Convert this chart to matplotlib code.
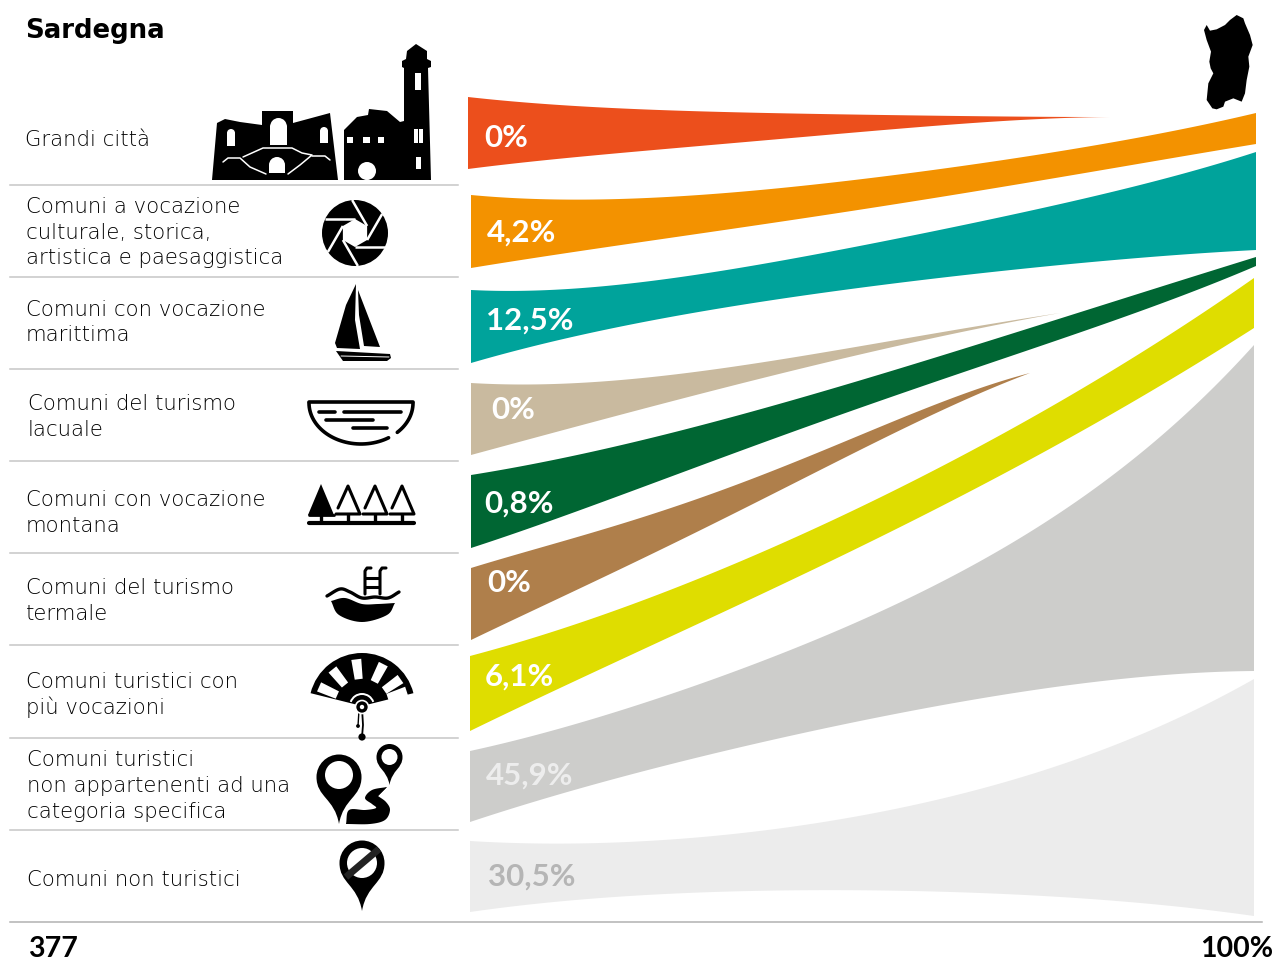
import numpy as np
import matplotlib
matplotlib.use('Agg')
import matplotlib.pyplot as plt
from matplotlib.patches import Circle, Ellipse, Polygon, PathPatch, Rectangle, Wedge
from matplotlib.path import Path

W, H = 1274, 962

colors = ['#EC4F1C', '#F39200', '#00A39B', '#C9BA9F', '#006633', '#AF7F4B', '#DFDD00', '#CDCDCB', '#ECECEC']
xs_full = [560, 660, 760, 860, 960, 1060, 1160]
flow_x = [
    [468, 560, 660, 760, 860, 960, 1060, 1110],
    [471] + xs_full + [1256],
    [471] + xs_full + [1256],
    [471, 560, 660, 760, 860, 960, 1060],
    [471] + xs_full + [1256],
    [471, 560, 660, 760, 860, 960, 1030],
    [470] + xs_full + [1254],
    [470] + xs_full + [1254],
    [470] + xs_full + [1254],
]
flow_top = [
    [97, 105, 110, 113, 114.5, 116, 117, 117],
    [195, 199, 198, 190, 179, 166, 152, 133, 113],
    [290, 288, 280, 267, 244, 225, 205, 180, 152],
    [383, 383, 377, 363, 345, 330, 313],
    [475, 460, 435, 408, 382, 350, 318, 287, 257],
    [568, 543, 510, 477, 435, 395, 373],
    [656, 630, 593, 553, 508, 457, 400, 342, 278],
    [751, 727, 698, 663, 621, 572, 510, 440, 345],
    [841, 843, 840, 832, 816, 793, 765, 727, 679],
]
flow_bottom = [
    [169, 159, 149, 141, 132, 124, 118, 117],
    [268, 253, 240, 225, 210, 193, 177, 161, 144],
    [363, 338, 320, 303, 287, 275, 265, 257, 250],
    [455, 430, 405, 380, 352, 334, 313],
    [548, 517, 483, 440, 410, 373, 340, 303, 266],
    [640, 597, 550, 503, 446, 405, 373],
    [731, 687, 642, 595, 548, 495, 443, 387, 328],
    [822, 793, 768, 743, 720, 702, 687, 675, 671],
    [912, 902, 893, 892, 890, 892, 897, 905, 916],
]

share_labels = ['0%', '4,2%', '12,5%', '0%', '0,8%', '0%', '6,1%', '45,9%', '30,5%']
share_colors = ['white'] * 7 + ['#EDEDED', '#B5B5B5']
share_x = [484, 487, 486, 491, 484, 487, 485, 486, 488]
share_y = [136, 231, 319, 408, 502, 581, 675, 774, 875]

label_lines = [
    ['Grandi città'],
    ['Comuni a vocazione', 'culturale, storica,', 'artistica e paesaggistica'],
    ['Comuni con vocazione', 'marittima'],
    ['Comuni del turismo', 'lacuale'],
    ['Comuni con vocazione', 'montana'],
    ['Comuni del turismo', 'termale'],
    ['Comuni turistici con', 'più vocazioni'],
    ['Comuni turistici', 'non appartenenti ad una', 'categoria specifica'],
    ['Comuni non turistici'],
]
label_x = [25, 26, 26, 28, 26, 26, 26, 27, 27]
label_y = [[138], [205, 231, 256], [308, 333], [402, 428], [498, 524], [586, 612], [680, 706], [758, 784, 810], [878]]

sep_y = [185, 277, 369, 461, 553, 645, 738, 830]

plt.rcParams['font.family'] = ['Lato', 'DejaVu Sans']


def smooth(xs, ys, n=24):
    # catmull-rom through the read points
    p = np.column_stack([xs, ys]).astype(float)
    p = np.vstack([2 * p[0] - p[1], p, 2 * p[-1] - p[-2]])
    out = []
    t = np.linspace(0, 1, n, endpoint=False)[:, None]
    for i in range(1, len(p) - 2):
        p0, p1, p2, p3 = p[i - 1], p[i], p[i + 1], p[i + 2]
        out.append(0.5 * (2 * p1 + (p2 - p0) * t + (2 * p0 - 5 * p1 + 4 * p2 - p3) * t ** 2
                          + (3 * p1 - p0 - 3 * p2 + p3) * t ** 3))
    out.append(p[-2][None, :])
    return np.vstack(out)


def edge(xs, ys, deg=4):
    # the read points are a bit noisy, a polynomial keeps the edge clean; ends pinned by weight
    xs = np.asarray(xs, float)
    u = (xs - xs[0]) / (xs[-1] - xs[0])
    w = np.ones(len(xs))
    w[0] = w[-1] = 12
    coef = np.polyfit(u, ys, deg, w=w)
    uu = np.linspace(0, 1, 160)
    return xs[0] + uu * (xs[-1] - xs[0]), np.polyval(coef, uu)


def poly(ax, pts, color='black', z=5):
    ax.add_patch(Polygon(pts, closed=True, facecolor=color, edgecolor='none', zorder=z))


def stroke(ax, pts, lw=2.2, color='black', z=6, cap='round'):
    xs, ys = zip(*pts)
    ax.plot(xs, ys, color=color, lw=lw, solid_capstyle=cap, solid_joinstyle='round', zorder=z)


def pin(ax, cx, cy, r, tip_y, color='black', z=5):
    # teardrop: circle plus curved tail
    k = 0.55 * r
    verts = [(cx - r, cy), (cx - r, cy - k), (cx - k, cy - r), (cx, cy - r),
             (cx + k, cy - r), (cx + r, cy - k), (cx + r, cy),
             (cx + r, cy + 0.9 * r), (cx + 0.2 * r, tip_y - 0.55 * (tip_y - cy)), (cx, tip_y),
             (cx - 0.2 * r, tip_y - 0.55 * (tip_y - cy)), (cx - r, cy + 0.9 * r), (cx - r, cy), (cx - r, cy)]
    codes = [Path.MOVETO] + [Path.CURVE4] * 12 + [Path.CLOSEPOLY]
    ax.add_patch(PathPatch(Path(verts, codes), facecolor=color, edgecolor='none', zorder=z))


def draw_city(ax):
    poly(ax, [(212, 180), (217, 123), (225, 119), (240, 122), (262, 125), (262, 111), (293, 111), (293, 123),
              (330, 113), (338, 180)])
    for x0, x1, y0, y1 in [(270, 287, 126, 145), (227, 235, 133, 146), (320, 328, 131, 143), (269, 285, 165, 173)]:
        ax.add_patch(Rectangle((x0, y0), x1 - x0, y1 - y0, fc='white', ec='none', zorder=6))
    ax.add_patch(Ellipse((278.5, 127), 17, 18, fc='white', ec='none', zorder=6))
    ax.add_patch(Ellipse((231, 133), 8, 8, fc='white', ec='none', zorder=6))
    ax.add_patch(Ellipse((324, 131), 8, 8, fc='white', ec='none', zorder=6))
    ax.add_patch(Ellipse((277, 165), 16, 16, fc='white', ec='none', zorder=6))
    stroke(ax, [(223, 162), (228, 158), (240, 158), (250, 167), (266, 174)], lw=1.1, color='white', z=7)
    stroke(ax, [(243, 157), (263, 148), (292, 148), (302, 153), (312, 155), (300, 165), (288, 174)],
           lw=1.1, color='white', z=7)
    stroke(ax, [(312, 156), (325, 156), (330, 160)], lw=1.1, color='white', z=7)

    poly(ax, [(344, 180), (344, 130), (357, 117), (368, 115), (369, 109), (387, 111), (400, 122), (404, 121),
              (404, 68), (402, 67), (402, 61), (406, 59), (407, 51), (416, 44), (427, 51), (427, 59), (431, 61),
              (431, 67), (428, 68), (431, 180)])
    for x0, x1, y0, y1 in [(347, 353, 137, 143), (363, 370, 137, 143), (378, 384, 137, 143), (415, 421, 73, 90),
                           (414, 417.5, 129, 143), (419, 423, 129, 143), (416, 421, 157, 169)]:
        ax.add_patch(Rectangle((x0, y0), x1 - x0, y1 - y0, fc='white', ec='none', zorder=6))
    ax.add_patch(Circle((367, 171), 9, fc='white', ec='none', zorder=6))


def draw_aperture(ax):
    cx, cy, r = 355, 233, 33
    ax.add_patch(Circle((cx, cy), r, fc='black', ec='none', zorder=5))
    angs = np.deg2rad(np.arange(-30, 330, 60))
    hexa = [(cx + 14 * np.cos(a), cy + 14 * np.sin(a)) for a in angs]
    poly(ax, hexa, color='white', z=6)
    for a, (hx, hy) in zip(angs, hexa):
        # each slit runs from a hexagon corner out to the rim
        b = a - np.deg2rad(90)
        stroke(ax, [(hx, hy), (hx + 30 * np.cos(b), hy + 30 * np.sin(b))], lw=1.8, color='white', z=6, cap='butt')


def draw_boat(ax):
    poly(ax, [(356, 284), (346, 305), (335, 343), (337, 348), (360, 349), (355, 320)])
    poly(ax, [(358, 290), (380, 347), (364, 346), (359, 315)])
    poly(ax, [(336, 351), (390, 354), (391, 358), (387, 361), (343, 361)])
    stroke(ax, [(341, 356), (389, 357)], lw=0.7, color='white', z=6)


def draw_lake(ax):
    t = np.linspace(0, np.pi, 60)
    px = 361 - 52 * np.cos(t)
    py = 403 + 41 * np.sin(t)
    keep = (t < np.deg2rad(125))
    ax.plot(px[keep], py[keep], color='black', lw=2.6, zorder=5, solid_capstyle='round')
    keep = (t > np.deg2rad(133))
    ax.plot(px[keep], py[keep], color='black', lw=2.6, zorder=5, solid_capstyle='round')
    stroke(ax, [(309, 402), (413, 402)], lw=2.6)
    stroke(ax, [(319, 412), (335, 412)], lw=2.6)
    stroke(ax, [(344, 412), (401, 412)], lw=2.6)
    stroke(ax, [(326, 420), (373, 420)], lw=2.6)
    stroke(ax, [(353, 428), (387, 428)], lw=2.6)


def draw_trees(ax):
    stroke(ax, [(309, 523), (414, 523)], lw=3)
    poly(ax, [(321, 484), (334, 515), (308, 515)])
    stroke(ax, [(308.5, 515), (334, 515)], lw=2)
    stroke(ax, [(321, 515), (321, 523)], lw=2.4, cap='butt')
    for x in [348, 375, 402]:
        stroke(ax, [(x - 10, 508), (x, 486), (x + 12, 514), (x - 12, 514)], lw=2.2)
        stroke(ax, [(x, 514), (x, 523)], lw=2.4, cap='butt')


def draw_pool(ax):
    w = smooth([327, 340, 350, 362, 375, 388, 399], [596, 589, 592, 598, 597, 598, 592], 10)
    ax.plot(w[:, 0], w[:, 1], color='black', lw=2.4, zorder=5, solid_capstyle='round')
    top = smooth([331, 345, 362, 378, 395], [601, 598, 604, 604, 603], 10)
    low = smooth([395, 387, 362, 339, 331], [603, 615, 622, 615, 601], 10)
    poly(ax, np.vstack([top, low]))
    stroke(ax, [(365, 594), (365, 571), (367, 568), (371, 568)], lw=2.2)
    stroke(ax, [(380, 594), (380, 571), (382, 568), (386, 568)], lw=2.2)
    stroke(ax, [(365, 578), (380, 578)], lw=2.2, cap='butt')
    stroke(ax, [(365, 587), (380, 587)], lw=2.2, cap='butt')


def draw_fan(ax):
    cx, cy = 362, 706
    # y axis is flipped, so the wedge angles run through 180-360
    ax.add_patch(Wedge((cx, cy), 53, 194, 346, fc='black', ec='none', zorder=5))
    for deg in [156, 129, 97, 63, 35, 18]:
        a = np.deg2rad(deg)
        n = np.array([np.sin(a), np.cos(a)]) * 5
        p0 = np.array([cx + 27 * np.cos(a), cy - 27 * np.sin(a)])
        p1 = np.array([cx + 47 * np.cos(a), cy - 47 * np.sin(a)])
        poly(ax, [p0 + n * 0.8, p1 + n, p1 - n, p0 - n * 0.8], color='white', z=6)
    ax.add_patch(Wedge((cx, cy), 13, 200, 340, width=2, fc='white', ec='none', zorder=6))
    ax.add_patch(Circle((cx, cy + 1), 6.5, fc='black', ec='white', lw=1.2, zorder=7))
    ax.add_patch(Circle((cx, cy + 1), 2.2, fc='white', ec='none', zorder=8))
    stroke(ax, [(362, 708), (363, 725), (362, 737)], lw=1.3)
    stroke(ax, [(359, 710), (358, 726)], lw=1)
    ax.add_patch(Circle((362, 737), 3.6, fc='black', ec='none', zorder=6))
    ax.add_patch(Circle((358, 726), 1.9, fc='black', ec='none', zorder=6))


def draw_pins(ax):
    pin(ax, 339, 777, 22.5, 824)
    ax.add_patch(Circle((339, 775), 14, fc='white', ec='none', zorder=6))
    pin(ax, 389.5, 757, 13, 785)
    ax.add_patch(Circle((389.5, 757), 8, fc='white', ec='none', zorder=6))
    poly(ax, np.vstack([
        smooth([387, 372, 365, 372, 376, 365, 349, 346], [787, 790, 798, 804, 808, 810, 810, 824], 8),
        smooth([346, 370, 385, 390, 386, 378], [824, 824, 820, 810, 802, 796], 8),
    ]))
    poly(ax, [(378, 796), (375, 794), (379, 791), (387, 787)])


def draw_nopin(ax):
    pin(ax, 362, 863, 22.5, 911)
    ax.add_patch(Circle((362, 863), 15, fc='white', ec='none', zorder=6))
    stroke(ax, [(346, 877), (379, 849)], lw=5, color='#222222', z=7, cap='butt')


def draw_island(ax):
    px = [72, 80, 90, 110, 135, 150, 170, 190, 195, 210, 218, 205, 208, 200, 195, 185, 160, 135, 130, 110, 97, 80,
          85, 100, 92, 88, 93, 80]
    py = [90, 75, 92, 88, 75, 60, 45, 55, 70, 105, 135, 170, 200, 240, 280, 305, 295, 305, 320, 328, 325, 300,
          250, 220, 205, 185, 155, 120]
    poly(ax, [(1180 + x / 3, y / 3) for x, y in zip(px, py)])


fig = plt.figure(figsize=(W / 100, H / 100), dpi=100)
ax = fig.add_axes([0, 0, 1, 1])
ax.set_xlim(0, W)
ax.set_ylim(H - 1, -1)
ax.axis('off')

for c, xs, top, bottom in zip(colors, flow_x, flow_top, flow_bottom):
    ux, uy = edge(xs, top)
    lx, ly = edge(xs, bottom)
    ax.fill(np.r_[ux, lx[::-1]], np.r_[uy, ly[::-1]], color=c, lw=0, zorder=2)

for txt, c, x, y in zip(share_labels, share_colors, share_x, share_y):
    ax.text(x, y + 1, txt, color=c, fontsize=22.5, fontweight='bold', va='center', ha='left', zorder=3)

for lines, x, ys in zip(label_lines, label_x, label_y):
    for line, y in zip(lines, ys):
        ax.text(x, y + 0.7, line, color='black', fontsize=15.3, family=['DejaVu Sans'], fontweight='light',
                va='center', ha='left')

for y in sep_y:
    ax.plot([10, 458], [y, y], color='#c6c6c6', lw=1.1)
ax.plot([10, 1262], [922, 922], color='#b2b2b2', lw=1.1)

ax.text(25, 29.5, 'Sardegna', fontsize=18.7, family=['DejaVu Sans'], fontweight='bold', color='black', va='center')
ax.text(28, 948, '377', fontsize=20.5, fontweight='bold', color='black', va='center')
ax.text(1273, 948, '100%', fontsize=20.5, fontweight='bold', color='black', va='center', ha='right')

draw_city(ax)
draw_aperture(ax)
draw_boat(ax)
draw_lake(ax)
draw_trees(ax)
draw_pool(ax)
draw_fan(ax)
draw_pins(ax)
draw_nopin(ax)
draw_island(ax)

fig.savefig('out.png', dpi=100)
